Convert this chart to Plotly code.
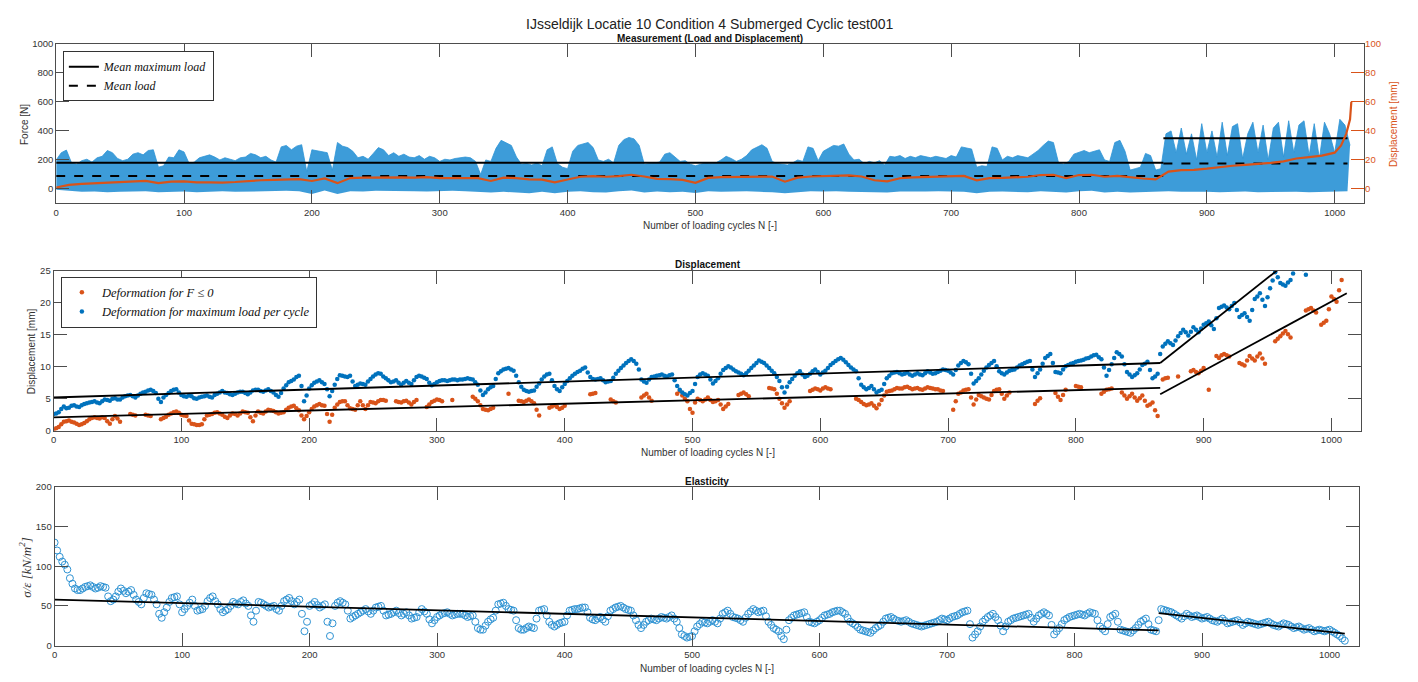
import plotly.graph_objects as go

# ---------------- data ----------------
cycles4 = list(range(0, 1013, 4))          # cycles 0, 4, ..., 1012
cycles4b = list(range(2, 1011, 4))         # cycles 2, 6, ..., 1010
cycles10 = list(range(0, 1011, 10))

force_peak = [
    200, 250, 268, 180, 170, 195, 205, 185, 215, 225,
    265, 250, 210, 195, 205, 240, 250, 235, 265, 270,
    150, 160, 220, 215, 270, 255, 175, 185, 215, 225,
    235, 220, 200, 215, 205, 195, 215, 220, 245, 235,
    215, 225, 200, 185, 290, 300, 270, 295, 305, 120,
    270, 265, 255, 250, 130, 320, 295, 285, 260, 215,
    225, 205, 245, 285, 270, 230, 250, 225, 240, 220,
    215, 230, 205, 225, 215, 190, 205, 200, 210, 215,
    220, 215, 190, 100, 200, 190, 280, 335, 320, 300,
    220, 170, 175, 165, 180, 160, 270, 290, 175, 150,
    140, 260, 300, 310, 320, 285, 200, 190, 205, 180,
    300, 340, 355, 345, 300, 170, 175, 180, 185, 240,
    250, 220, 190, 195, 170, 160, 170, 180, 175, 180,
    200, 225, 210, 190, 205, 230, 270, 290, 305, 280,
    190, 175, 170, 165, 180, 200, 190, 290, 280, 195,
    260, 280, 300, 295, 310, 240, 200, 205, 175, 190,
    180, 195, 165, 225, 220, 230, 210, 225, 215, 230,
    220, 215, 225, 220, 210, 230, 220, 290, 285, 275,
    150, 160, 155, 290, 280, 200, 225, 215, 230, 220,
    215, 240, 265, 300, 330, 320, 180, 170, 190, 240,
    255, 265, 250, 260, 270, 200, 190, 320, 335, 260,
    130, 140, 150, 245, 230, 130, 140, 380, 400, 250,
    420, 240, 380, 200, 450, 250, 400, 220, 460, 230,
    430, 450, 210, 380, 460, 250, 440, 200, 420, 460,
    220, 470, 250, 440, 470, 230, 450, 210, 460, 380,
    250, 480, 440, 300,
]

force_trough = [
    -5, -15, -20, -18, -22, -20, -18, -15, -22, -20,
    -18, -22, -20, -15, -20, -18, -15, -10, -12, -15,
    -35, -10, -35, -15, -18, -12, -15, -14, -16, -18,
    -15, -12, -15, -20, -25, -20, -25, -30, -20, -30,
    -20, -15, -22, -25, -15, -10, -25, -18, -22, -20,
    -28, -15, -20, -18, -15, -20, -22, -30, -20, -15,
    -18, -15, -20, -22, -28, -25, -18, -20, -18, -15,
    -15, -20, -30, -20, -18, -20, -22, -15, -18, -25,
    -15, -12, -25, -20, -25, -22, -20, -15, -20, -18,
    -20, -22, -20, -18, -22, -20, -18, -20, -22, -20,
    -18, -15,
]

disp_cycles = list(range(0, 1001, 10)) + [1005, 1009, 1012, 1013]
disp_mm = [
    1.0, 2.8, 3.5, 3.8, 4.2, 4.5, 5.0, 5.5, 4.0, 5.0,
    5.2, 4.5, 4.6, 4.4, 4.8, 5.5, 6.0, 6.2, 6.5, 6.8,
    5.5, 7.2, 4.0, 7.5, 7.8, 8.0, 8.2, 8.0, 7.8, 8.2,
    7.5, 7.6, 7.8, 7.4, 5.5, 7.8, 7.5, 6.6, 6.4, 4.5,
    6.5, 8.4, 8.8, 8.4, 8.8, 9.8, 8.6, 7.0, 6.8, 6.2,
    4.2, 7.6, 8.2, 8.4, 8.2, 8.8, 8.6, 5.0, 7.8, 8.6,
    9.0, 9.2, 9.4, 8.6, 6.0, 5.2, 7.4, 8.0, 8.2, 8.4,
    8.6, 9.0, 6.0, 7.4, 7.6, 7.8, 8.4, 9.6, 9.8, 7.4,
    9.6, 9.8, 8.4, 9.0, 8.0, 7.2, 6.6, 12.0, 13.0, 13.2,
    14.0, 15.2, 16.0, 16.6, 17.2, 18.0, 19.0, 21.0, 22.0, 23.0,
    25.0, 30.0, 38.0, 48.0, 60.0,
]

mean_max_x = [0, 866, None, 866, 1010]
mean_max_y = [180, 180, None, 350, 350]
mean_load_x = [0, 866, None, 866, 1010]
mean_load_y = [90, 90, None, 175, 175]

# deformation at maximum load (blue), cycles 0,4,...
def_max = [
    2.6, 2.9, 3.8, 3.6, 4.0, 3.7, 4.2, 4.4, 4.6, 4.3,
    4.9, 4.7, 5.1, 4.9, 5.4, 5.6, 5.2, 5.8, 6.1, 6.4,
    5.9, 4.5, 5.6, 6.2, 6.5, 5.6, 5.3, 5.4, 5.0, 5.3,
    5.5, 5.2, 5.8, 6.2, 5.9, 5.6, 6.0, 6.1, 5.7, 6.3,
    6.4, 6.1, 6.5, 6.0, 5.3, 6.6, 7.6, 8.0, 8.6, 4.6,
    6.6, 7.5, 7.9, 7.3, 5.4, 7.2, 8.7, 8.5, 8.6, 7.0,
    7.4, 7.2, 8.1, 8.8, 8.9, 8.2, 7.6, 7.9, 7.2, 7.8,
    7.3, 8.4, 8.5, 8.1, 7.1, 7.6, 7.9, 7.8, 8.0, 7.9,
    8.0, 8.2, 8.0, 7.2, 5.6, 6.5, 7.0, 9.0, 9.6, 9.8,
    9.4, 7.6, 6.4, 6.1, 6.3, 7.4, 8.5, 8.9, 7.0, 6.2,
    7.3, 8.2, 8.9, 9.4, 9.9, 8.4, 8.0, 8.2, 7.6, 7.8,
    8.9, 9.8, 10.6, 11.2, 10.5, 8.0, 7.5, 8.4, 8.6, 8.8,
    8.5, 8.8, 7.0, 6.0, 5.5, 6.2, 8.4, 9.0, 8.6, 7.4,
    8.2, 9.5, 10.1, 9.6, 9.1, 8.7, 9.4, 10.2, 11.0, 10.6,
    9.8, 9.0, 7.8, 6.0, 7.6, 8.6, 9.3, 8.4, 8.9, 9.6,
    8.8, 9.4, 10.3, 10.9, 11.4, 10.7, 9.9, 9.3, 7.2, 6.5,
    7.0, 6.0, 6.4, 8.2, 9.0, 9.2, 8.8, 9.1, 8.6, 9.0,
    8.7, 9.3, 8.9, 9.2, 9.6, 9.4, 8.8, 10.2, 10.9, 10.4,
    7.4, 8.2, 9.4, 10.3, 10.9, 9.3, 8.8, 9.4, 9.6, 10.2,
    10.6, 10.9, 8.4, 9.6, 11.4, 12.0, 9.2, 9.0, 10.1, 10.5,
    10.8, 11.0, 11.3, 11.6, 11.9, 11.2, 8.6, 10.4, 12.3, 11.6,
    9.2, 8.4, 9.0, 10.3, 10.8, 8.2, 8.9, 13.2, 14.0, 13.4,
    14.8, 15.8, 14.9, 16.2, 15.4, 16.6, 17.1, 15.9, 19.2, 19.6,
    19.0, 20.0, 17.8, 18.4, 17.2, 20.6, 21.5, 19.5, 22.3, 24.8,
    23.1, 22.7, 23.6, 25.6, 26.2, 24.4, 26.8, 27.5, 28.1, 27.9,
    28.8, 29.5, 30.2, 31.0,
]
# same series, cycles 2,6,...
def_max_b = [
    2.7, 3.4, 3.5, 3.9, 3.8, 4.0, 4.3, 4.5, 4.4, 4.6,
    4.8, 5.0, 4.9, 5.2, 5.5, 5.4, 5.5, 6.0, 6.3, 6.2,
    5.0, 5.2, 5.9, 6.4, 6.0, 5.4, 5.5, 5.1, 5.2, 5.4,
    5.3, 5.6, 6.0, 6.0, 5.7, 5.8, 6.1, 5.9, 6.0, 6.4,
    6.2, 6.3, 6.2, 5.6, 5.9, 7.1, 7.8, 8.4, 7.0, 5.5,
    7.1, 7.7, 7.6, 6.5, 6.2, 8.1, 8.6, 8.4, 7.7, 7.2,
    7.3, 7.7, 8.5, 9.0, 8.5, 7.9, 7.7, 7.5, 7.5, 7.5,
    7.9, 8.6, 8.3, 7.5, 7.3, 7.8, 7.9, 7.9, 8.0, 8.0,
    8.1, 8.1, 7.6, 6.3, 6.0, 6.8, 8.1, 9.3, 9.7, 9.6,
    8.6, 6.9, 6.2, 6.2, 6.9, 8.0, 8.8, 7.9, 6.5, 6.8,
    7.8, 8.6, 9.2, 9.7, 9.1, 8.1, 8.1, 7.9, 7.7, 8.3,
    9.4, 10.2, 10.9, 10.9, 9.6, 7.7, 8.0, 8.5, 8.7, 8.6,
    8.7, 7.9, 6.4, 5.7, 5.9, 7.3, 8.8, 8.8, 8.0, 7.8,
    8.9, 9.8, 9.9, 9.3, 8.9, 9.0, 9.8, 10.6, 10.8, 10.2,
    9.4, 8.4, 6.8, 6.9, 8.1, 9.0, 8.8, 8.6, 9.3, 9.2,
    9.1, 9.8, 10.6, 11.2, 11.1, 10.3, 9.6, 8.2, 6.8, 6.7,
    6.5, 6.2, 7.3, 8.6, 9.1, 9.0, 8.9, 8.8, 8.8, 8.8,
    9.0, 9.1, 9.0, 9.4, 9.5, 9.1, 9.5, 10.6, 10.7, 8.9,
    7.8, 8.8, 9.9, 10.6, 10.1, 9.0, 9.1, 9.5, 9.9, 10.4,
    10.8, 9.6, 9.0, 10.5, 11.7, 10.6, 9.1, 9.6, 10.3, 10.6,
    10.9, 11.1, 11.4, 11.8, 11.5, 9.9, 9.5, 11.4, 12.0, 10.4,
    8.8, 8.7, 9.6, 10.5, 9.5, 8.5, 12.0, 13.6, 13.7, 14.1,
    15.3, 15.4, 15.5, 15.8, 16.0, 16.8, 16.5, 17.6, 19.4, 19.3,
    19.5, 18.9, 18.1, 17.8, 18.9, 21.0, 20.5, 20.9, 23.5, 24.0,
    22.9, 23.2, 24.6, 25.9, 25.3, 25.6, 27.2, 27.8, 28.0, 28.4,
    29.1, 29.8, 30.6,
]

# deformation for F <= 0 (orange), cycles 0,4,...
def_min = [
    0.2, 0.6, 1.4, 1.6, 1.3, 0.9, 1.2, 1.8, 2.1, 1.9,
    2.0, 1.1, 2.3, 1.4, None, 2.6, 2.4, None, 2.5, 2.3,
    None, 1.8, 2.2, 2.7, 3.0, 2.5, 2.3, 1.1, 0.9, 1.0,
    2.4, 2.6, 2.9, 2.5, 2.0, 2.7, 2.4, 3.0, 2.8, 1.5,
    3.0, 2.7, 3.3, 3.1, 2.7, 2.9, 3.6, 3.9, 3.2, 1.8,
    2.9, 3.8, 4.2, 3.9, 1.4, 3.6, 4.5, 4.6, 3.5, 3.3,
    4.6, 3.4, 4.5, 4.3, 4.8, 4.7, None, 4.6, 4.4, 4.7,
    4.1, 4.8, None, 3.7, 4.5, 4.9, 4.6, None, 4.8, None,
    None, None, 5.3, 4.6, 3.4, 3.2, 3.6, None, None, 5.8,
    None, 4.7, 4.5, 4.9, 4.3, 2.4, None, 3.6, 4.0, 3.4,
    3.9, None, None, None, None, 5.7, 5.9, None, None, 4.9,
    4.4, None, None, None, None, 5.2, 5.8, 4.7, None, None,
    None, None, 5.8, 5.5, 4.6, 2.8, 5.0, 4.6, 5.2, 4.5,
    4.8, 3.4, 4.2, None, 5.6, 6.0, 5.4, None, None, None,
    6.7, 6.5, 5.0, 3.6, 4.6, None, None, None, 6.2, 6.6,
    6.3, 6.8, 6.5, None, None, None, None, 5.0, 4.5, 4.0,
    4.3, 3.5, 4.8, 6.1, 6.3, 6.7, 6.6, 6.9, 6.5, 6.7,
    6.4, 6.8, 6.6, 6.5, 6.2, None, 3.3, 5.8, 6.3, 6.5,
    4.1, 5.6, 5.2, 4.9, 6.2, 6.5, 5.0, 6.0, None, None,
    None, None, 4.2, 5.1, None, None, 5.9, 4.8, 6.4, None,
    7.0, 6.8, None, None, None, 5.8, 6.4, 6.6, None, 6.0,
    5.0, 5.8, 4.7, 5.5, 3.9, 4.4, 2.3, 8.0, 8.3, None,
    8.5, None, None, 9.5, 9.0, 9.8, 6.4, None, 11.4, 12.0,
    11.6, None, 10.6, 10.2, 11.7, 11.0, 12.1, 10.5, None, 14.0,
    14.8, 15.6, 14.6, None, None, 18.8, 19.2, 18.5, 16.6, 17.2,
    21.0, 20.2, 23.6, None,
]
# same series, cycles 2,6,...
def_min_b = [
    0.4, 1.0, 1.5, 1.4, 1.1, 1.0, 1.5, 2.0, 2.0, 2.1,
    1.5, 1.8, 1.9, None, None, 2.5, None, None, 2.4, None,
    None, 2.0, 2.5, 2.9, 2.8, 2.4, 1.6, 1.0, 0.9, 1.8,
    2.5, 2.8, 2.7, 2.2, 2.4, 2.6, 2.7, 2.9, 2.1, 2.4,
    2.8, 3.0, 3.2, 2.9, 2.8, 3.3, 3.8, 3.5, 2.4, 2.3,
    3.4, 4.0, 4.0, 2.6, 2.5, 4.1, 4.6, 4.0, 3.4, 4.0,
    4.0, 4.0, 4.4, 4.6, 4.8, None, None, 4.5, 4.6, 4.4,
    4.5, None, None, 4.1, 4.7, 4.8, None, None, None, None,
    None, None, 5.0, 4.0, 3.3, 3.4, None, None, None, None,
    None, 4.6, 4.7, 4.6, 3.3, None, None, 3.8, 3.7, 3.6,
    None, None, None, None, None, 5.8, None, None, None, 4.6,
    None, None, None, None, None, 5.5, 5.2, None, None, None,
    None, None, 6.2, 5.0, 3.4, 4.4, 4.8, 4.9, 4.8, 4.6,
    4.1, 3.8, None, None, 5.8, 5.7, None, None, None, None,
    6.6, 5.8, 4.3, 4.1, None, None, None, None, 6.4, 6.5,
    6.6, 6.6, None, None, None, None, None, 4.8, 4.2, 4.1,
    3.9, 4.1, 5.5, 6.2, 6.5, 6.6, 6.8, 6.7, 6.6, 6.5,
    6.6, 6.7, 6.5, 6.3, None, None, 4.6, 6.0, 6.4, 5.2,
    4.9, 5.4, 5.0, 5.6, 6.4, 5.8, 5.5, None, None, None,
    None, None, 4.7, None, None, None, 5.3, 5.6, None, None,
    6.9, None, None, None, None, 6.1, 6.5, None, None, 5.5,
    5.4, 5.2, 5.1, 4.7, 4.1, 3.2, None, 8.2, None, None,
    None, None, 9.3, 9.2, 9.4, None, None, 11.7, 11.8, 11.8,
    None, None, 10.4, 11.0, 11.3, 11.6, 11.3, None, None, 14.4,
    15.2, 15.1, None, None, None, 19.0, 18.8, None, 16.9, 19.0,
    20.6, 22.0, None,
]

trend_max_x = [0, 866, None, 866, 1010]
trend_max_y = [5.2, 10.6, None, 10.6, 33.4]
trend_min_x = [0, 866, None, 866, 1012]
trend_min_y = [2.1, 6.7, None, 5.7, 21.5]

# elasticity sigma/epsilon, cycles 0,4,...
elasticity = [
    130, 112, 102, 85, 72, 70, 74, 76, 72, 75,
    73, 56, 62, 72, 66, 70, 58, 52, 66, 64,
    52, 35, 48, 60, 62, 42, 50, 58, 44, 46,
    56, 62, 52, 42, 46, 55, 52, 57, 50, 30,
    55, 52, 48, 50, 44, 56, 60, 52, 58, 18,
    50, 55, 48, 52, 12, 50, 56, 52, 34, 38,
    42, 46, 40, 48, 50, 38, 40, 44, 38, 42,
    34, 36, 46, 40, 28, 36, 40, 42, 38, 40,
    40, 36, 38, 22, 20, 30, 35, 52, 54, 46,
    44, 22, 20, 24, 22, 44, 46, 30, 24, 28,
    30, 44, 46, 47, 48, 35, 32, 36, 30, 44,
    48, 50, 46, 44, 32, 22, 30, 34, 32, 36,
    34, 38, 30, 14, 10, 12, 24, 30, 28, 32,
    28, 40, 44, 36, 34, 30, 40, 46, 42, 44,
    30, 22, 18, 8, 32, 38, 40, 42, 30, 28,
    32, 38, 40, 43, 44, 40, 30, 26, 20, 18,
    16, 22, 26, 34, 36, 32, 30, 32, 28, 26,
    24, 26, 28, 30, 34, 32, 36, 38, 42, 44,
    10, 18, 30, 36, 40, 32, 18, 30, 34, 36,
    38, 40, 30, 38, 42, 38, 14, 22, 32, 36,
    38, 40, 38, 42, 40, 24, 18, 36, 40, 20,
    18, 16, 22, 30, 34, 20, 18, 46, 44, 42,
    38, 34, 40, 36, 38, 34, 36, 32, 30, 34,
    28, 30, 32, 26, 30, 28, 26, 28, 30, 26,
    24, 28, 26, 22, 24, 20, 22, 18, 20, 18,
    20, 16, 12, 6,
]
# same series, cycles 2,6,...
elasticity_b = [
    120, 106, 96, 78, 70, 72, 75, 74, 73, 74,
    62, 58, 68, 69, 68, 64, 55, 60, 65, 58,
    40, 42, 55, 61, 52, 46, 54, 50, 45, 50,
    60, 56, 46, 44, 50, 53, 55, 53, 38, 44,
    54, 50, 49, 46, 50, 58, 56, 55, 40, 30,
    52, 51, 50, 30, 28, 54, 54, 44, 36, 40,
    44, 43, 44, 49, 44, 39, 42, 41, 40, 38,
    35, 42, 43, 33, 32, 38, 41, 40, 39, 40,
    38, 37, 30, 20, 25, 33, 44, 53, 50, 45,
    32, 20, 22, 23, 34, 45, 38, 26, 26, 29,
    38, 45, 46, 48, 42, 33, 34, 33, 37, 46,
    49, 48, 45, 38, 26, 26, 32, 33, 34, 35,
    36, 34, 22, 12, 11, 18, 27, 29, 30, 30,
    34, 42, 40, 35, 32, 35, 43, 44, 43, 37,
    26, 20, 12, 20, 35, 39, 41, 36, 29, 30,
    35, 39, 42, 44, 42, 35, 28, 23, 19, 17,
    19, 24, 30, 35, 34, 31, 31, 30, 27, 25,
    25, 27, 29, 32, 33, 34, 37, 40, 43, 27,
    14, 24, 33, 38, 36, 25, 24, 32, 35, 37,
    39, 35, 34, 40, 40, 26, 18, 27, 34, 37,
    39, 39, 40, 41, 32, 21, 27, 38, 30, 19,
    17, 19, 26, 32, 27, 19, 32, 45, 43, 40,
    36, 37, 38, 37, 36, 35, 34, 31, 32, 31,
    29, 31, 29, 28, 29, 27, 27, 29, 28, 25,
    26, 27, 24, 23, 22, 21, 20, 19, 19, 19,
    18, 14, 9,
]

trend_el_x = [0, 866, None, 866, 1012]
trend_el_y = [58, 19, None, 41, 15]

# ---------------- styling ----------------
BLUE = "#0072BD"
ORANGE = "#D95319"
AX = "#4d4d4d"
SANS = "Liberation Sans, Arial, sans-serif"
SERIF = "Liberation Serif, Times New Roman, serif"
W, H = 1418, 682

fig = go.Figure()

# Top panel: force band, displacement, mean lines
fig.add_trace(go.Scatter(x=cycles10, y=force_trough, mode="lines",
                         line=dict(width=0, color="#2f94d6"), showlegend=False,
                         hoverinfo="skip", xaxis="x", yaxis="y"))
fig.add_trace(go.Scatter(x=cycles4, y=force_peak, mode="lines", fill="tonexty",
                         fillcolor="rgba(45,148,214,0.92)",
                         line=dict(width=0.8, color="#2f94d6"), showlegend=False,
                         xaxis="x", yaxis="y"))
fig.add_trace(go.Scatter(x=mean_max_x, y=mean_max_y, mode="lines",
                         line=dict(color="black", width=2),
                         name="<i>Mean maximum load</i>", legend="legend",
                         xaxis="x", yaxis="y"))
fig.add_trace(go.Scatter(x=mean_load_x, y=mean_load_y, mode="lines",
                         line=dict(color="black", width=2, dash="dash"),
                         name="<i>Mean load</i>", legend="legend",
                         xaxis="x", yaxis="y"))
fig.add_trace(go.Scatter(x=disp_cycles, y=disp_mm, mode="lines",
                         line=dict(color=ORANGE, width=2.2), showlegend=False,
                         xaxis="x", yaxis="y2"))

# Middle panel: displacement scatter
fig.add_trace(go.Scatter(x=cycles4, y=def_min, mode="markers",
                         marker=dict(color=ORANGE, size=4.5),
                         name="<i>Deformation for F ≤ 0</i>", legend="legend2",
                         legendgroup="min", xaxis="x2", yaxis="y3"))
fig.add_trace(go.Scatter(x=cycles4b, y=def_min_b, mode="markers",
                         marker=dict(color=ORANGE, size=4.5), showlegend=False,
                         legendgroup="min", xaxis="x2", yaxis="y3"))
fig.add_trace(go.Scatter(x=cycles4, y=def_max, mode="markers",
                         marker=dict(color=BLUE, size=4.5),
                         name="<i>Deformation for maximum load per cycle</i>",
                         legend="legend2", legendgroup="max", xaxis="x2", yaxis="y3"))
fig.add_trace(go.Scatter(x=cycles4b, y=def_max_b, mode="markers",
                         marker=dict(color=BLUE, size=4.5), showlegend=False,
                         legendgroup="max", xaxis="x2", yaxis="y3"))
fig.add_trace(go.Scatter(x=trend_max_x, y=trend_max_y, mode="lines",
                         line=dict(color="black", width=1.8), showlegend=False,
                         xaxis="x2", yaxis="y3"))
fig.add_trace(go.Scatter(x=trend_min_x, y=trend_min_y, mode="lines",
                         line=dict(color="black", width=1.8), showlegend=False,
                         xaxis="x2", yaxis="y3"))

# Bottom panel: elasticity
for cx, cy in ((cycles4, elasticity), (cycles4b, elasticity_b)):
    fig.add_trace(go.Scatter(x=cx, y=cy, mode="markers",
                             marker=dict(symbol="circle-open", color="#2f93d3", size=7,
                                         line=dict(width=1)),
                             showlegend=False, xaxis="x3", yaxis="y4"))
fig.add_trace(go.Scatter(x=trend_el_x, y=trend_el_y, mode="lines",
                         line=dict(color="black", width=1.8), showlegend=False,
                         xaxis="x3", yaxis="y4"))


def xax(domain, anchor):
    return dict(domain=domain, anchor=anchor, range=[0, 1023],
                tickvals=[0, 100, 200, 300, 400, 500, 600, 700, 800, 900, 1000],
                ticks="inside", ticklen=13, tickcolor=AX, showline=True,
                linecolor=AX, linewidth=1, mirror="ticks", showgrid=False,
                zeroline=False, tickfont=dict(family=SANS, size=9.5, color="#333"))


def yax(domain, anchor, rng, tv, mirror="ticks"):
    return dict(domain=domain, anchor=anchor, range=rng, tickvals=tv,
                ticks="inside", ticklen=13, tickcolor=AX, showline=True,
                linecolor=AX, linewidth=1, mirror=mirror, showgrid=False,
                zeroline=False, tickfont=dict(family=SANS, size=9.5, color="#333"))


top_dom = [1 - 200.7 / H, 1 - 38.5 / H]
mid_dom = [1 - 431.7 / H, 1 - 269.3 / H]
bot_dom = [1 - 650.0 / H, 1 - 489.0 / H]

layout = dict(
    width=W, height=H, paper_bgcolor="white", plot_bgcolor="white",
    margin=dict(l=0, r=0, t=0, b=0),
    xaxis=xax([53.3 / W, 1364 / W], "y"),
    yaxis=yax(top_dom, "x", [-100, 1000], [0, 200, 400, 600, 800, 1000], mirror=True),
    yaxis2=dict(overlaying="y", side="right", anchor="x", range=[-10, 100],
                tickvals=[0, 20, 40, 60, 80, 100], ticks="inside", ticklen=13,
                tickcolor=ORANGE, showline=False, showgrid=False, zeroline=False,
                tickfont=dict(family=SANS, size=9.5, color=ORANGE)),
    xaxis2=xax([50.7 / W, 1360.7 / W], "y3"),
    yaxis3=yax(mid_dom, "x2", [0, 25], [0, 5, 10, 15, 20, 25]),
    xaxis3=xax([51.7 / W, 1358.7 / W], "y4"),
    yaxis4=yax(bot_dom, "x3", [0, 200], [0, 50, 100, 150, 200]),
    legend=dict(x=60 / W, y=1 - 46 / H, xanchor="left", yanchor="top",
                bgcolor="white", bordercolor="#333", borderwidth=1,
                font=dict(family=SERIF, size=12, color="#111"),
                traceorder="normal", tracegroupgap=0, itemwidth=30),
    legend2=dict(x=58 / W, y=1 - 275 / H, xanchor="left", yanchor="top",
                 bgcolor="white", bordercolor="#333", borderwidth=1,
                 font=dict(family=SERIF, size=12.5, color="#111"),
                 traceorder="normal", tracegroupgap=0, itemwidth=30),
    showlegend=True,
)
fig.update_layout(**layout)

ann = []


def text(x, y, s, size, bold=False, color="#222", angle=0, family=SANS):
    ann.append(dict(x=x / W, y=1 - y / H, xref="paper", yref="paper",
                    text=("<b>%s</b>" % s) if bold else s, showarrow=False,
                    xanchor="center", yanchor="middle", textangle=angle,
                    font=dict(family=family, size=size, color=color)))


text(708, 18, "IJsseldijk Locatie 10 Condition 4 Submerged Cyclic test001", 14)
text(708, 33, "Measurement (Load and Displacement)", 10, bold=True, color="#111")
text(706, 263, "Displacement", 10, bold=True, color="#111")
text(705, 483, "Elasticity", 10, bold=True, color="#111")
text(708, 223, "Number of loading cycles N [-]", 10, color="#333")
text(706, 454, "Number of loading cycles N [-]", 10, color="#333")
text(705, 673, "Number of loading cycles N [-]", 10, color="#333")
text(21, 120, "Force [N]", 10, color="#333", angle=-90)
text(1393, 120, "Displacement [mm]", 10, color=ORANGE, angle=-90)
text(28, 351, "Displacement [mm]", 10, color="#333", angle=-90)
text(22, 570, "<i>σ/ε [kN/m<sup>2</sup>]</i>", 13, color="#333", angle=-90, family=SERIF)

fig.update_layout(annotations=ann)
fig.write_html(
    "out.html",
    config={"displayModeBar": False},
    post_script="document.body.style.margin='0px';document.body.style.overflow='hidden';",
)
